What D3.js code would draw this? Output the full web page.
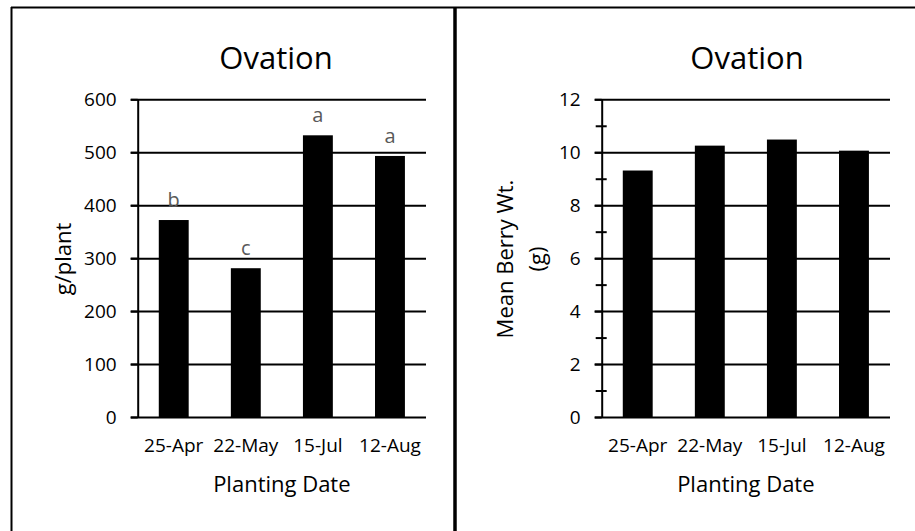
<!DOCTYPE html>
<html>
<head>
<meta charset="utf-8">
<script src="https://cdn.jsdelivr.net/npm/d3@7"></script>
<style>
  body { margin: 0; background: #fff; }
  text { font-family: "Open Sans", sans-serif; fill: #000; }
  .grid line { stroke: #000; stroke-width: 2; }
  .grid path { display: none; }
  .yaxis path { stroke: #000; stroke-width: 2; }
  .yaxis line { stroke: #000; stroke-width: 2; }
  .yaxis text { font-size: 19px; }
  .xaxis path { display: none; }
  .xaxis text { font-size: 19px; }
  .minor line { stroke: #000; stroke-width: 2; }
  .minor path { display: none; }
  .title { font-size: 31px; }
  .label { font-size: 22px; }
  .letter { font-size: 20px; fill: #595959; }
</style>
</head>
<body>
<script>
var width = 915, height = 531;

// data
var dates = ["25-Apr", "22-May", "15-Jul", "12-Aug"];
var gramsPerPlant = [372, 281, 532, 493];
var sigLetters = ["b", "c", "a", "a"];
var berryWt = [9.31, 10.25, 10.48, 10.06];
var gramsTicks = [0, 100, 200, 300, 400, 500, 600];
var berryTicks = [0, 2, 4, 6, 8, 10, 12];
var berryMinorTicks = [1, 3, 5, 7, 9, 11];

var svg = d3.select("body").append("svg")
            .attr("width", width).attr("height", height);

svg.append("rect").attr("width", width).attr("height", height).attr("fill", "#fff");

// panel frames
svg.append("line").attr("x1", 11).attr("x2", width).attr("y1", 7.5).attr("y2", 7.5)
   .attr("stroke", "#000").attr("stroke-width", 2);
svg.append("line").attr("x1", 11.5).attr("x2", 11.5).attr("y1", 7).attr("y2", height)
   .attr("stroke", "#000").attr("stroke-width", 2);
svg.append("line").attr("x1", 455).attr("x2", 455).attr("y1", 7).attr("y2", height)
   .attr("stroke", "#000").attr("stroke-width", 3.5);

function drawPanel(opt) {
    var x0 = opt.left, x1 = opt.right, yTop = 99.3, yBot = 417;
    var g = svg.append("g");

    var x = d3.scaleBand().domain(dates).range([x0, x1])
              .paddingInner(0.585).paddingOuter(0.2925);
    var y = d3.scaleLinear().domain([0, d3.max(opt.ticks)]).range([yBot, yTop]);

    // gridlines (stick out a bit left of the axis)
    g.append("g").attr("class", "grid")
     .attr("transform", "translate(" + (x0 - 7) + ",0)")
     .call(d3.axisLeft(y).tickValues(opt.ticks).tickSize(-(x1 - x0 + 7)).tickFormat(""));

    if (opt.minor) {
        g.append("g").attr("class", "minor")
         .attr("transform", "translate(" + (x0 - 6) + ",0)")
         .call(d3.axisLeft(y).tickValues(opt.minor).tickSize(-11).tickFormat(""));
    }

    // bars
    g.selectAll(".bar").data(opt.values).enter().append("rect")
     .attr("class", "bar")
     .attr("x", function(d, i){ return x(dates[i]); })
     .attr("width", x.bandwidth())
     .attr("y", function(d){ return y(d); })
     .attr("height", function(d){ return y(0) - y(d); })
     .attr("fill", "#000");

    // y axis
    g.append("g").attr("class", "yaxis")
     .attr("transform", "translate(" + x0 + ",0)")
     .call(d3.axisLeft(y).tickValues(opt.ticks).tickSizeInner(7).tickSizeOuter(0).tickPadding(opt.pad));

    // x axis labels
    g.append("g").attr("class", "xaxis")
     .attr("transform", "translate(0," + yBot + ")")
     .call(d3.axisBottom(x).tickSize(0).tickPadding(22));

    if (opt.letters) {
        g.selectAll(".letter").data(opt.values).enter().append("text")
         .attr("class", "letter")
         .attr("text-anchor", "middle")
         .attr("x", function(d, i){ return x(dates[i]) + x.bandwidth() / 2; })
         .attr("y", function(d){ return y(d) - 13; })
         .text(function(d, i){ return opt.letters[i]; });
    }

    g.append("text").attr("class", "title").attr("text-anchor", "middle")
     .attr("x", opt.titleX).attr("y", 69).text("Ovation");

    g.append("text").attr("class", "label").attr("text-anchor", "middle")
     .attr("x", (x0 + x1) / 2).attr("y", 492).text("Planting Date");

    var yl = g.append("text").attr("class", "label").attr("text-anchor", "middle")
              .attr("transform", "translate(" + opt.labelX + ",259) rotate(-90)");
    opt.yLabel.forEach(function(line, i){
        yl.append("tspan").attr("x", 0).attr("dy", i === 0 ? 0 : 32).text(line);
    });
}

drawPanel({left: 137.7, right: 426, ticks: gramsTicks, values: gramsPerPlant,
           letters: sigLetters, pad: 14, titleX: 276, labelX: 71, yLabel: ["g/plant"]});

drawPanel({left: 601.7, right: 890, ticks: berryTicks, minor: berryMinorTicks,
           values: berryWt, pad: 14, titleX: 747, labelX: 513, yLabel: ["Mean Berry Wt.", "(g)"]});
</script>
</body>
</html>
